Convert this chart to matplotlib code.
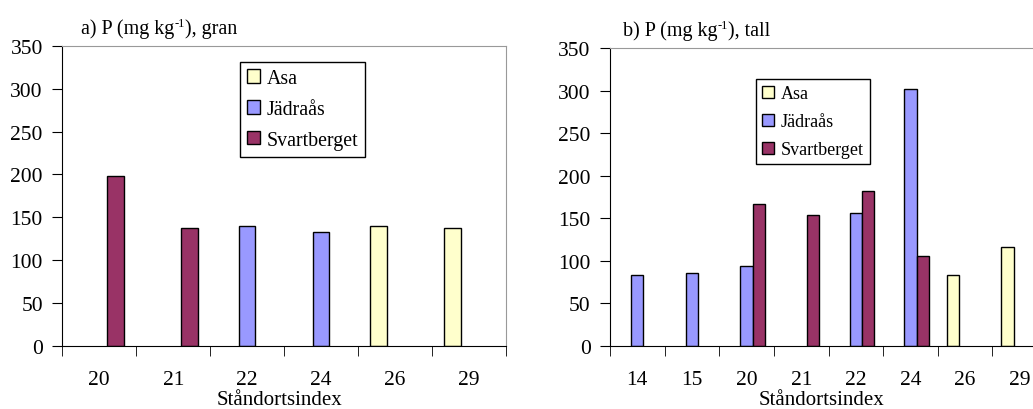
import numpy as np
import matplotlib
matplotlib.use("Agg")
import matplotlib.pyplot as plt
from matplotlib.patches import Patch

plt.rcParams['font.family'] = ['Liberation Serif', 'DejaVu Serif']

series = ["Asa", "Jädraås", "Svartberget"]
colors = ["#FFFFCC", "#9999FF", "#993366"]

# a) gran
cats_a = ["20", "21", "22", "24", "26", "29"]
asa_a = [0, 0, 0, 0, 140, 138]
jad_a = [0, 0, 140, 133, 0, 0]
sva_a = [198, 137, 0, 0, 0, 0]

# b) tall
cats_b = ["14", "15", "20", "21", "22", "24", "26", "29"]
asa_b = [0, 0, 0, 0, 0, 0, 83, 116]
jad_b = [83, 86, 94, 0, 156, 302, 0, 0]
sva_b = [0, 0, 167, 154, 182, 106, 0, 0]

fig = plt.figure(figsize=(10.33, 4.10), dpi=100)
W, H = 1033, 410


def panel(rect, cats, vals, xlab_x, leg_xy, leg_fs, lsp):
    ax = fig.add_axes(rect)
    n = len(cats)
    x = np.arange(n)
    w = 1 / 4.5
    for i, (v, c) in enumerate(zip(vals, colors)):
        v = np.array(v, dtype=float)
        m = v > 0
        ax.bar(x[m] + (i - 1) * w, v[m], width=w, color=c,
               edgecolor="black", linewidth=1.0)
    ax.set_xlim(-0.5, n - 0.5)
    ax.set_ylim(0, 350)
    ax.set_yticks(np.arange(0, 351, 50))
    ax.set_xticks(x)
    ax.set_xticklabels(cats)
    ax.set_xticks(np.arange(n + 1) - 0.5, minor=True)
    ax.tick_params(axis="x", which="major", length=0, pad=17, labelsize=15.5)
    ax.tick_params(axis="x", which="minor", length=7, direction="out")
    ax.tick_params(axis="y", length=7, direction="out", labelsize=15.5, pad=7)
    for s in ["top", "right"]:
        ax.spines[s].set_color("#999999")
    ax.set_xlabel("Ståndortsindex", fontsize=15)
    ax.xaxis.set_label_coords(xlab_x / W, 1 - 391 / H, transform=fig.transFigure)
    handles = [Patch(facecolor=c, edgecolor="black", label=s)
               for s, c in zip(series, colors)]
    leg = ax.legend(handles=handles, loc="upper left",
                    bbox_to_anchor=leg_xy, bbox_transform=fig.transFigure,
                    fontsize=leg_fs, fancybox=False, edgecolor="black",
                    framealpha=1, handlelength=0.65, handleheight=0.65,
                    handletextpad=0.35, labelspacing=lsp, borderpad=0.35,
                    borderaxespad=0)
    leg.get_frame().set_linewidth(1.0)
    return ax


def title(x, y, before, after, fs=14.5):
    r = fig.canvas.get_renderer()
    t1 = fig.text(x / W, 1 - y / H, before, fontsize=fs)
    bb = t1.get_window_extent(r)
    t2 = fig.text(bb.x1 / W, 1 - (y - 7) / H, "-1", fontsize=fs * 0.62)
    bb2 = t2.get_window_extent(r)
    fig.text(bb2.x1 / W, 1 - y / H, after, fontsize=fs)


panel([62.3 / W, 63 / H, 443.7 / W, 300.3 / H], cats_a,
      [asa_a, jad_a, sva_a], 280, (240 / W, 1 - 63 / H), 14.3, 0.6)
title(81, 34, "a) P (mg kg", "), gran")

panel([610 / W, 63 / H, 437 / W, 298 / H], cats_b,
      [asa_b, jad_b, sva_b], 822, (756 / W, 1 - 80 / H), 13, 0.6)
title(623, 36, "b) P (mg kg", "), tall")

fig.savefig("out.png", dpi=100)
